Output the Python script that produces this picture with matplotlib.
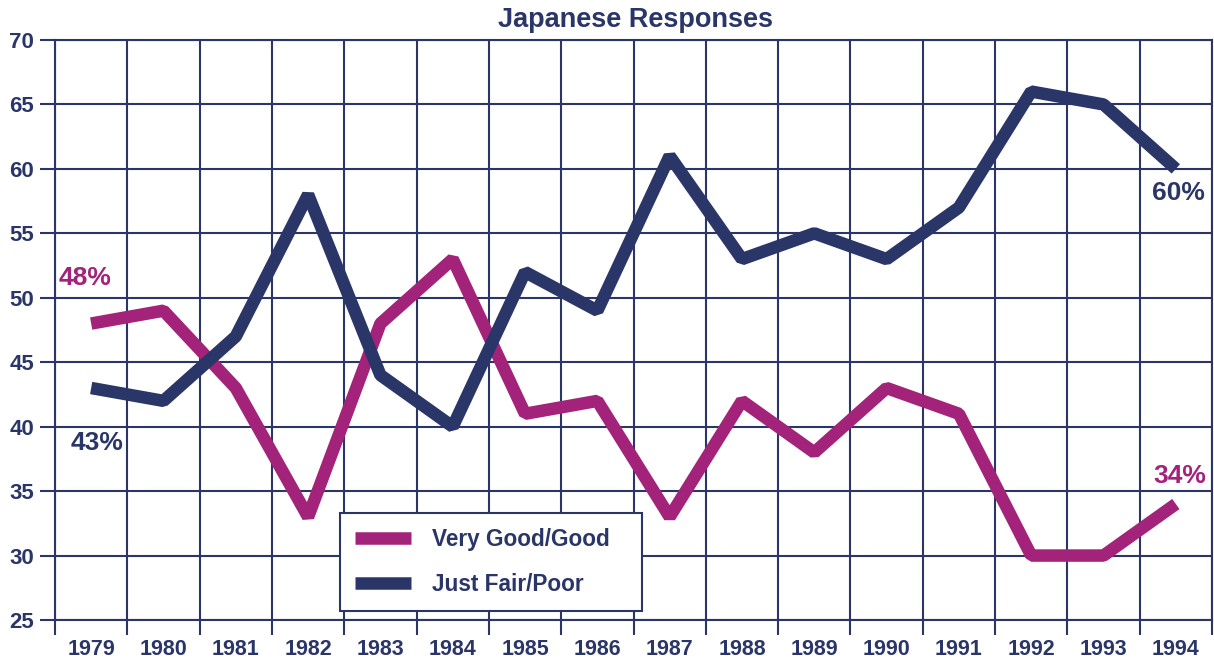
import matplotlib
matplotlib.use("Agg")
import matplotlib.pyplot as plt
import numpy as np

years = [1979, 1980, 1981, 1982, 1983, 1984, 1985, 1986, 1987, 1988, 1989, 1990, 1991, 1992, 1993, 1994]
very_good = [48, 49, 43, 33, 48, 53, 41, 42, 33, 42, 38, 43, 41, 30, 30, 34]
just_fair = [43, 42, 47, 58, 44, 40, 52, 49, 61, 53, 55, 53, 57, 66, 65, 60]
series_labels = ["Very Good/Good", "Just Fair/Poor"]
title = "Japanese Responses"
y_ticks = [25, 30, 35, 40, 45, 50, 55, 60, 65, 70]

PINK = "#A3237B"
NAVY = "#2A3668"
GRID = "#2B3568"

plt.rcParams['font.family'] = ['Liberation Sans', 'DejaVu Sans']

W, H = 1214, 662
fig = plt.figure(figsize=(W / 100, H / 100), dpi=100)
L, R, T, B = 55, 1212, 40, 620
ax = fig.add_axes([L / W, 1 - B / H, (R - L) / W, (B - T) / H])

ax.set_xlim(years[0] - 0.5, years[-1] + 0.5)
ax.set_ylim(y_ticks[0], y_ticks[-1])

# grid lines at half-years (major x ticks) and every 5 (y ticks)
ax.set_xticks(np.arange(years[0] - 0.5, years[-1] + 1, 1.0))
ax.set_xticklabels([])
ax.set_xticks(years, minor=True)
ax.set_xticklabels([str(y) for y in years], minor=True)
ax.set_yticks(y_ticks)
ax.set_yticklabels([str(v) for v in y_ticks])

ax.grid(True, which='major', color=GRID, linewidth=1.5)
ax.set_axisbelow(True)
ax.tick_params(axis='x', which='major', length=11, width=1.5, color=GRID, direction='out')
ax.tick_params(axis='x', which='minor', length=0, pad=14, labelsize=15.5, labelcolor=NAVY)
ax.tick_params(axis='y', which='major', length=11, width=1.5, color=GRID, pad=4,
               labelsize=16, labelcolor=NAVY)
for lab in ax.get_xticklabels(minor=True) + ax.get_yticklabels():
    lab.set_fontweight('bold')
for sp in ax.spines.values():
    sp.set_color(GRID)
    sp.set_linewidth(1.5)

l1, = ax.plot(years, very_good, color=PINK, linewidth=9, solid_capstyle='butt',
              solid_joinstyle='bevel', label=series_labels[0], zorder=3)
l2, = ax.plot(years, just_fair, color=NAVY, linewidth=9, solid_capstyle='butt',
              solid_joinstyle='bevel', label=series_labels[1], zorder=4)

ann_kw = dict(fontsize=19, fontweight='bold', ha='center', va='center', zorder=5)
ax.text(1978.91, 51.5, f"{very_good[0]}%", color=PINK, **ann_kw)
ax.text(1979.08, 38.7, f"{just_fair[0]}%", color=NAVY, **ann_kw)
ax.text(1994.06, 36.2, f"{very_good[-1]}%", color=PINK, **ann_kw)
ax.text(1994.03, 58.1, f"{just_fair[-1]}%", color=NAVY, **ann_kw)

leg = ax.legend(handles=[l1, l2], loc='upper left', mode='expand',
                bbox_to_anchor=(340 / W, 1 - 611 / H, 302 / W, 98 / H),
                bbox_transform=fig.transFigure,
                frameon=True, fancybox=False, framealpha=1, edgecolor=GRID,
                prop={'weight': 'bold', 'size': 16.3}, labelcolor=NAVY,
                handlelength=2.5, handletextpad=0.9, labelspacing=1.0,
                borderpad=0.65, borderaxespad=0)
leg.get_frame().set_linewidth(1.5)
leg.set_zorder(6)

fig.text(636 / W, 1 - 20 / H, title, ha='center', va='center', fontsize=19.5,
         fontweight='bold', color=NAVY)

fig.savefig("out.png", dpi=100, facecolor='white')
